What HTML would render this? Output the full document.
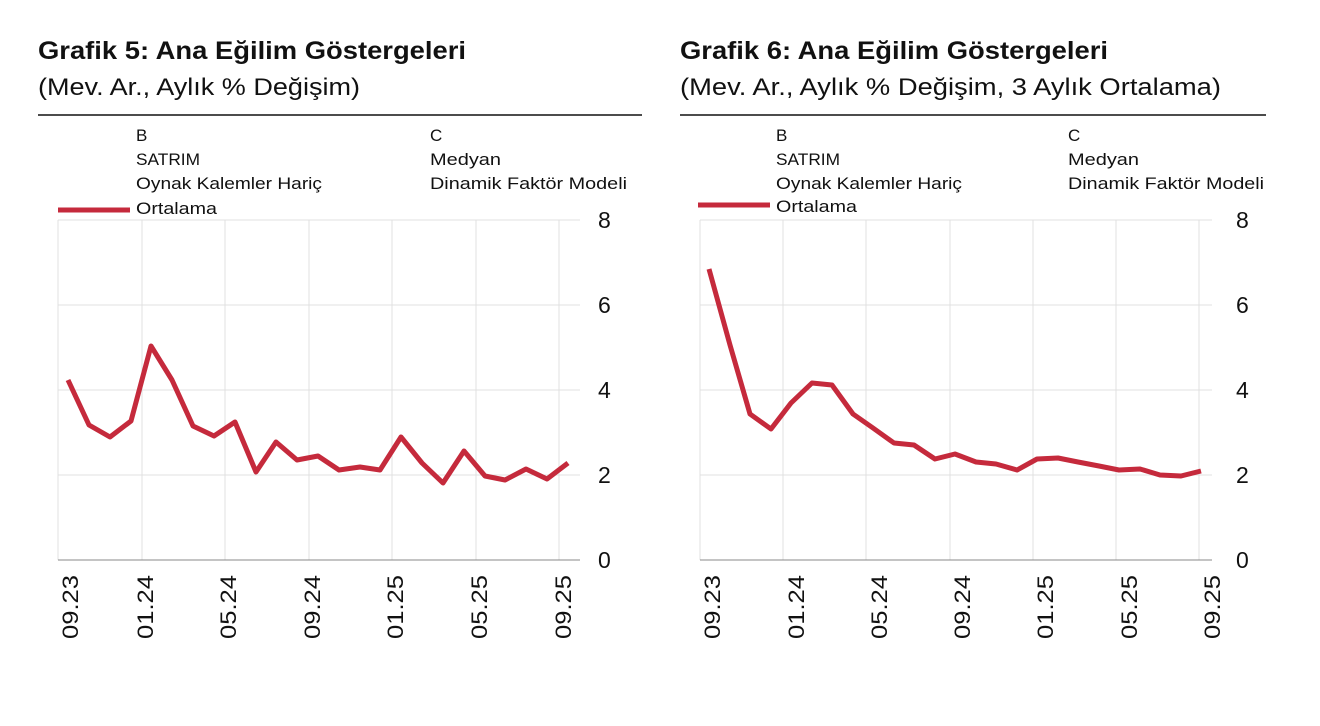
<!DOCTYPE html>
<html><head><meta charset="utf-8"><style>
body{margin:0;background:#fff;}
svg{display:block;font-family:"Liberation Sans",sans-serif;}
</style></head><body>
<svg width="1320" height="726" xmlns="http://www.w3.org/2000/svg">
<g font-weight="bold" font-size="25" fill="#111" lengthAdjust="spacingAndGlyphs">
<text x="38" y="59" textLength="428" lengthAdjust="spacingAndGlyphs">Grafik 5: Ana Eğilim Göstergeleri</text>
<text x="680" y="59" textLength="428" lengthAdjust="spacingAndGlyphs">Grafik 6: Ana Eğilim Göstergeleri</text>
</g>
<g font-size="24" fill="#111">
<text x="38" y="95" textLength="322" lengthAdjust="spacingAndGlyphs">(Mev. Ar., Aylık % Değişim)</text>
<text x="680" y="95" textLength="541" lengthAdjust="spacingAndGlyphs">(Mev. Ar., Aylık % Değişim, 3 Aylık Ortalama)</text>
</g>
<line x1="38" y1="115" x2="642" y2="115" stroke="#111" stroke-width="1.5"/>
<line x1="680" y1="115" x2="1266" y2="115" stroke="#111" stroke-width="1.5"/>
<g font-size="17" fill="#111">
<text x="136" y="141">B</text><text x="136" y="165" textLength="64" lengthAdjust="spacingAndGlyphs">SATRIM</text><text x="136" y="189" textLength="186" lengthAdjust="spacingAndGlyphs">Oynak Kalemler Hariç</text><text x="136" y="214" textLength="81" lengthAdjust="spacingAndGlyphs">Ortalama</text>
<text x="430" y="141">C</text><text x="430" y="165" textLength="71" lengthAdjust="spacingAndGlyphs">Medyan</text><text x="430" y="189" textLength="197" lengthAdjust="spacingAndGlyphs">Dinamik Faktör Modeli</text>
<text x="776" y="141">B</text><text x="776" y="165" textLength="64" lengthAdjust="spacingAndGlyphs">SATRIM</text><text x="776" y="189" textLength="186" lengthAdjust="spacingAndGlyphs">Oynak Kalemler Hariç</text><text x="776" y="212" textLength="81" lengthAdjust="spacingAndGlyphs">Ortalama</text>
<text x="1068" y="141">C</text><text x="1068" y="165" textLength="71" lengthAdjust="spacingAndGlyphs">Medyan</text><text x="1068" y="189" textLength="196" lengthAdjust="spacingAndGlyphs">Dinamik Faktör Modeli</text>
</g>
<line x1="58" y1="210" x2="130" y2="210" stroke="#c52a3c" stroke-width="5"/>
<line x1="698" y1="205" x2="770" y2="205" stroke="#c52a3c" stroke-width="5"/>
<g stroke="#e0e0e0" stroke-width="1">
<line x1="58" y1="220" x2="580" y2="220"/><line x1="58" y1="305" x2="580" y2="305"/><line x1="58" y1="390" x2="580" y2="390"/><line x1="58" y1="475" x2="580" y2="475"/>
<line x1="142" y1="220" x2="142" y2="560"/><line x1="225" y1="220" x2="225" y2="560"/><line x1="309" y1="220" x2="309" y2="560"/><line x1="392" y1="220" x2="392" y2="560"/><line x1="476" y1="220" x2="476" y2="560"/><line x1="559" y1="220" x2="559" y2="560"/><line x1="58" y1="220" x2="58" y2="560"/>
<line x1="700" y1="220" x2="1212" y2="220"/><line x1="700" y1="305" x2="1212" y2="305"/><line x1="700" y1="390" x2="1212" y2="390"/><line x1="700" y1="475" x2="1212" y2="475"/>
<line x1="700" y1="220" x2="700" y2="560"/><line x1="783" y1="220" x2="783" y2="560"/><line x1="866" y1="220" x2="866" y2="560"/><line x1="950" y1="220" x2="950" y2="560"/><line x1="1033" y1="220" x2="1033" y2="560"/><line x1="1116" y1="220" x2="1116" y2="560"/><line x1="1199" y1="220" x2="1199" y2="560"/>
</g>
<line x1="58" y1="560" x2="580" y2="560" stroke="#888" stroke-width="1"/>
<line x1="700" y1="560" x2="1212" y2="560" stroke="#888" stroke-width="1"/>
<g font-size="23" fill="#111">
<text x="598" y="228">8</text><text x="598" y="313">6</text><text x="598" y="398">4</text><text x="598" y="483">2</text><text x="598" y="568">0</text>
<text x="1236" y="228">8</text><text x="1236" y="313">6</text><text x="1236" y="398">4</text><text x="1236" y="483">2</text><text x="1236" y="568">0</text>
</g>
<g font-size="22" fill="#111" text-anchor="end">
<text transform="translate(78,575) rotate(-90)" textLength="64" lengthAdjust="spacingAndGlyphs">09.23</text>
<text transform="translate(153,575) rotate(-90)" textLength="64" lengthAdjust="spacingAndGlyphs">01.24</text>
<text transform="translate(236,575) rotate(-90)" textLength="64" lengthAdjust="spacingAndGlyphs">05.24</text>
<text transform="translate(320,575) rotate(-90)" textLength="64" lengthAdjust="spacingAndGlyphs">09.24</text>
<text transform="translate(403,575) rotate(-90)" textLength="64" lengthAdjust="spacingAndGlyphs">01.25</text>
<text transform="translate(487,575) rotate(-90)" textLength="64" lengthAdjust="spacingAndGlyphs">05.25</text>
<text transform="translate(571,575) rotate(-90)" textLength="64" lengthAdjust="spacingAndGlyphs">09.25</text>
<text transform="translate(720,575) rotate(-90)" textLength="64" lengthAdjust="spacingAndGlyphs">09.23</text>
<text transform="translate(804,575) rotate(-90)" textLength="64" lengthAdjust="spacingAndGlyphs">01.24</text>
<text transform="translate(887,575) rotate(-90)" textLength="64" lengthAdjust="spacingAndGlyphs">05.24</text>
<text transform="translate(970,575) rotate(-90)" textLength="64" lengthAdjust="spacingAndGlyphs">09.24</text>
<text transform="translate(1053,575) rotate(-90)" textLength="64" lengthAdjust="spacingAndGlyphs">01.25</text>
<text transform="translate(1137,575) rotate(-90)" textLength="64" lengthAdjust="spacingAndGlyphs">05.25</text>
<text transform="translate(1220,575) rotate(-90)" textLength="64" lengthAdjust="spacingAndGlyphs">09.25</text>
</g>
<polyline fill="none" stroke="#c52a3c" stroke-width="5" stroke-linejoin="round" points="68,380 89,425 110,437 131,421 151,346 172,380 193,426 214,436 235,422 256,472 276,442 297,460 318,456 339,470 360,467 380,470 401,437 422,463 443,483 464,451 485,476 505,480 526,469 547,479 568,463"/>
<polyline fill="none" stroke="#c52a3c" stroke-width="5" stroke-linejoin="round" points="709,269 730,345 750,414 771,429 791,403 812,383 832,385 853,414 873,428 894,443 914,445 935,459 955,454 976,462 996,464 1017,470 1037,459 1058,458 1078,462 1099,466 1119,470 1140,469 1160,475 1181,476 1201,471"/>
</svg>
</body></html>
